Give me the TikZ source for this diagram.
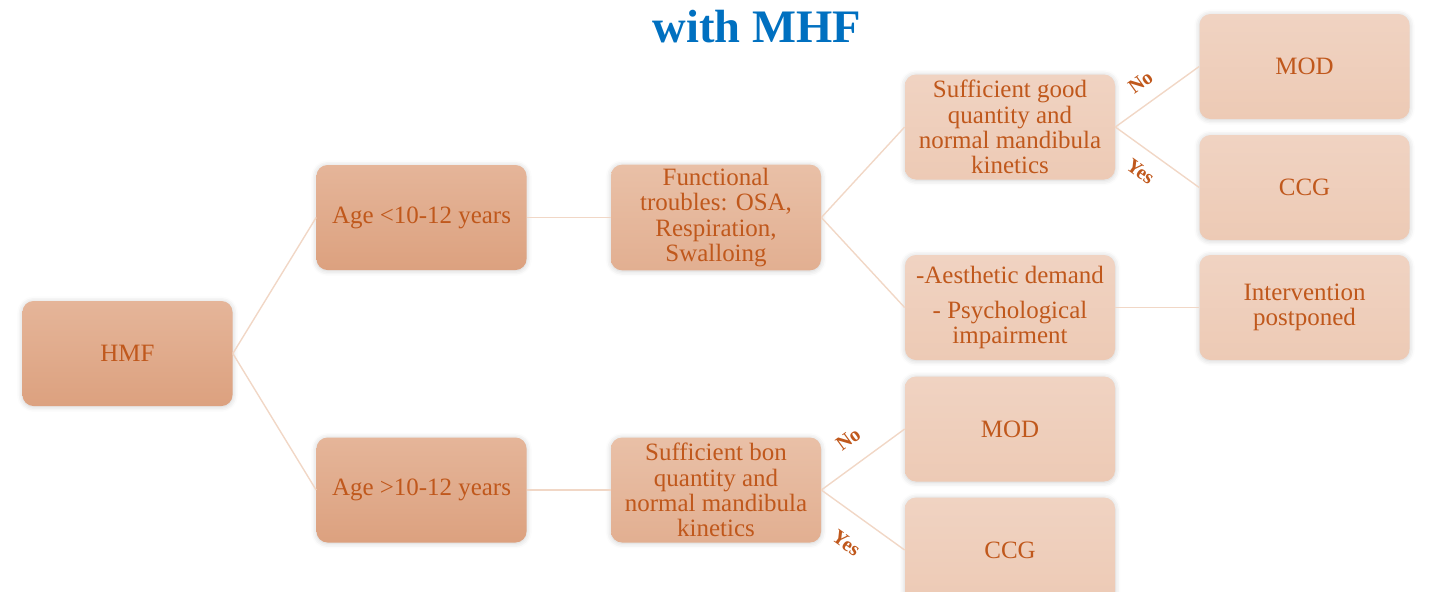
\documentclass[tikz,border=0pt]{standalone}
\usepackage{fontspec}
\setmainfont{Liberation Serif}
\usepackage{tikz}
\usetikzlibrary{positioning}
\usetikzlibrary{shadows.blur}

\definecolor{BoxText}{HTML}{C0581C}
\definecolor{LinkLine}{HTML}{F1D7C6}
\definecolor{TitleBlue}{HTML}{0070C0}
\definecolor{LvlATop}{HTML}{E5B599}
\definecolor{LvlABot}{HTML}{DCA17F}
\definecolor{LvlBTop}{HTML}{E9C0A7}
\definecolor{LvlBBot}{HTML}{E2AF91}
\definecolor{LvlCTop}{HTML}{F0D3C2}
\definecolor{LvlCBot}{HTML}{EDCAB5}

\tikzset{
	box/.style={rounded corners=0.22cm, minimum width=4.2cm, minimum height=2.1cm,
		align=center, text=BoxText, inner sep=2pt,
		font=\fontsize{14.2}{14.4}\selectfont,
		blur shadow={shadow xshift=0pt, shadow yshift=-0.4pt,
			shadow blur radius=3pt, shadow opacity=20}},
	lvlA/.style={box, top color=LvlATop, bottom color=LvlABot},
	lvlB/.style={box, top color=LvlBTop, bottom color=LvlBBot},
	lvlC/.style={box, top color=LvlCTop, bottom color=LvlCBot},
	link/.style={draw=LinkLine, line width=0.8pt},
	answer/.style={font=\bfseries\fontsize{11.5}{11.5}\selectfont, text=BoxText, sloped, inner sep=1pt},
}

\begin{document}
\begin{tikzpicture}

	% ------------------------------------------------
	% Size of the picture
	\useasboundingbox (0,0) rectangle (28.58,-11.82);

	% ------------------------------------------------
	% Relevant coordinates
	\coordinate (Root) at (2.55,-7.07);

	\path (Root)    +(5.88, 2.72) coordinate (AgeLowC);
	\path (Root)    +(5.88,-2.73) coordinate (AgeHighC);
	\path (AgeLowC) +(5.89, 0.00) coordinate (FuncC);
	\path (AgeHighC)+(5.89, 0.00) coordinate (BonC);
	\path (FuncC)   +(5.88, 1.81) coordinate (GoodC);
	\path (FuncC)   +(5.88,-1.80) coordinate (AesthC);
	\path (GoodC)   +(5.89, 1.21) coordinate (ModUpC);
	\path (GoodC)   +(5.89,-1.21) coordinate (CcgUpC);
	\path (AesthC)  +(5.89, 0.00) coordinate (PostC);
	\path (BonC)    +(5.88, 1.22) coordinate (ModLowC);
	\path (BonC)    +(5.88,-1.20) coordinate (CcgLowC);

	% ----------------
	% Title
	\node[anchor=base, text=TitleBlue, font=\bfseries\fontsize{26.5}{26.5}\selectfont]
		(Title) at (15.14,-0.84) {with MHF};

	% ----------------
	% Boxes
	\node[lvlA] (HMF)      at (Root)     {HMF};
	\node[lvlA] (AgeLow)   at (AgeLowC)  {Age <10-12 years};
	\node[lvlA] (AgeHigh)  at (AgeHighC) {Age >10-12 years};

	\node[lvlB] (Func)     at (FuncC)    {Functional\\troubles: OSA,\\Respiration,\\Swalloing};
	\node[lvlB] (Bon)      at (BonC)     {Sufficient bon\\quantity and\\normal mandibula\\kinetics};

	\node[lvlC] (Good)     at (GoodC)    {Sufficient good\\quantity and\\normal mandibula\\kinetics};
	\node[lvlC] (Aesth)    at (AesthC)   {-Aesthetic demand\\[0.2cm]- Psychological\\impairment};
	\node[lvlC] (ModLow)   at (ModLowC)  {MOD};
	\node[lvlC] (CcgLow)   at (CcgLowC)  {CCG};

	\node[lvlC] (ModUp)    at (ModUpC)   {MOD};
	\node[lvlC] (CcgUp)    at (CcgUpC)   {CCG};
	\node[lvlC] (Post)     at (PostC)    {Intervention\\postponed};

	%%%%%%%%%%%%%%%%%%%%%%%%%%%%%%%%%%%%%%%%%
	% Links
	\draw[link] (HMF.east) -- (AgeLow.west);
	\draw[link] (HMF.east) -- (AgeHigh.west);
	\draw[link] (AgeLow.east) -- (Func.west);
	\draw[link] (AgeHigh.east) -- (Bon.west);
	\draw[link] (Func.east) -- (Good.west);
	\draw[link] (Func.east) -- (Aesth.west);
	\draw[link] (Aesth.east) -- (Post.west);

	\draw[link] (Good.east) -- node[answer, above=7pt, pos=0.45] {No} (ModUp.west);
	\draw[link] (Good.east) -- node[answer, below=7pt, pos=0.45] {Yes} (CcgUp.west);
	\draw[link] (Bon.east)  -- node[answer, above=9pt, pos=0.50] {No} (ModLow.west);
	\draw[link] (Bon.east)  -- node[answer, below=11pt, pos=0.50] {Yes} (CcgLow.west);

\end{tikzpicture}
\end{document}
